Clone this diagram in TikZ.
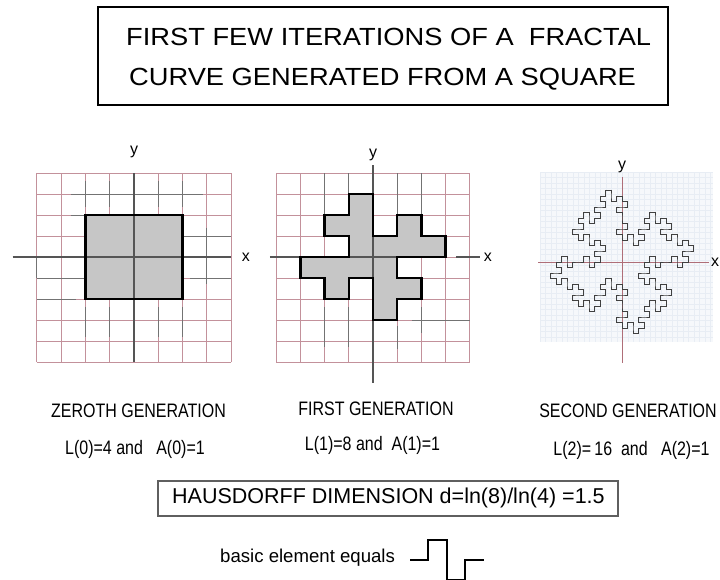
\documentclass[tikz,border=0pt]{standalone}
\usepackage{fontspec}
\setmainfont{Liberation Sans}
\newfontfamily\condfont[FakeStretch=0.82]{Liberation Sans}
\newfontfamily\widefont[FakeStretch=1.1]{Liberation Sans}
\usetikzlibrary{lindenmayersystems}
\pgfdeclarelindenmayersystem{QuadKoch}{\rule{F -> F+F-F-FF+F+F-F}}
\definecolor{gridpink}{RGB}{195,145,155}
\definecolor{axisgray}{RGB}{85,85,85}
\definecolor{shapefill}{RGB}{198,198,198}
\definecolor{faintbg}{RGB}{246,248,251}
\definecolor{faintline}{RGB}{232,237,244}
\definecolor{redaxis}{RGB}{175,110,120}
\definecolor{boxgray}{RGB}{95,95,95}
\begin{document}
\begin{tikzpicture}[x=1pt,y=-1pt,
  gridln/.style={draw=gridpink,line width=0.9pt},
  darkseg/.style={draw=black!55,line width=0.9pt},
  axisln/.style={draw=axisgray,line width=1.1pt},
  outline/.style={draw=black,line width=2.4pt,line join=miter},
  lbl/.style={inner sep=0pt,font=\fontsize{16}{18}\selectfont},
  genlbl/.style={inner sep=0pt,anchor=base,font=\condfont\fontsize{19.5}{21}\selectfont},
]
\fill[white] (0,0) rectangle (720,579);
\useasboundingbox (0,0) rectangle (720,579);

% ---- title
\draw[line width=1.8pt] (98,7) rectangle (668,105);
\node[anchor=base west,inner sep=0pt,font=\widefont\fontsize{24.8}{28}\selectfont] (t1) at (126,45) {FIRST FEW ITERATIONS OF A\ \ FRACTAL};
\node[anchor=base west,inner sep=0pt,font=\widefont\fontsize{24.8}{28}\selectfont] (t2) at (129,85) {CURVE GENERATED FROM A SQUARE};

% ---- zeroth generation
\begin{scope}[shift={(134,257)},x=24.3pt,y=21pt]
  \foreach \i in {-4,...,4} \draw[gridln] (\i,-5) -- (\i,4);
  \foreach \j in {-5,...,4} \draw[gridln] (-4,\j) -- (4,\j);
  \draw[darkseg] (-2.6,3) -- (2.85,3);
  \foreach \i in {-2,-1,1,2} {
    \draw[darkseg] (\i,3.6) -- (\i,2.4);
    \draw[darkseg] (\i,-2.4) -- (\i,-3.8);
  }
  \draw[darkseg] (2,1) -- (4,1);
  \draw[darkseg] (2.3,-1) -- (4,-1);
  \draw[darkseg] (3,1.4) -- (3,-1.3);
  \draw[darkseg] (-4,-1) -- (-2,-1);
  \draw[darkseg] (-4,0) -- (-4,-1);
  \draw[darkseg] (-4,-2) -- (-2.4,-2);
  \draw[darkseg] (-2.6,2) -- (-2,2);
  \fill[shapefill] (-2,-2) rectangle (2,2);
  \draw[axisln] (-5,0) -- (4,0);
  \draw[axisln] (0,4) -- (0,-5);
  \draw[outline] (-2,-2) rectangle (2,2);
  \node[lbl] (x1) at (4.6,0) {x};
  \node[lbl] (y1) at (0,5.0) {y};
\end{scope}

% ---- first generation
\begin{scope}[shift={(373,257)},x=24.2pt,y=21pt]
  \foreach \i in {-4,...,4} \draw[gridln] (\i,-5) -- (\i,4);
  \foreach \j in {-5,...,4} \draw[gridln] (-4,\j) -- (4,\j);
  \draw[darkseg] (-2,4) -- (-2,2);
  \draw[darkseg] (-1,4) -- (-1,3);
  \draw[darkseg] (1,4) -- (1,2);
  \draw[darkseg] (2,4) -- (2,2);
  \draw[darkseg] (-2,-2.4) -- (-2,-4.3);
  \draw[darkseg] (-1,-2.4) -- (-1,-4.3);
  \draw[darkseg] (1,-3.3) -- (1,-4.4);
  \draw[darkseg] (2,-2.4) -- (2,-3.6);
  \draw[darkseg] (1.6,-3) -- (4,-3);
  \fill[shapefill] (-2,2) -- (-1,2) -- (-1,3) -- (0,3) -- (0,2) -- (0,1) -- (1,1) -- (1,2) -- (2,2)
    -- (2,1) -- (3,1) -- (3,0) -- (2,0) -- (1,0) -- (1,-1) -- (2,-1) -- (2,-2)
    -- (1,-2) -- (1,-3) -- (0,-3) -- (0,-2) -- (0,-1) -- (-1,-1) -- (-1,-2) -- (-2,-2)
    -- (-2,-1) -- (-3,-1) -- (-3,0) -- (-2,0) -- (-1,0) -- (-1,1) -- (-2,1) -- cycle;
  \draw[axisln] (-4.26,0) -- (3.05,0);
  \draw[axisln] (3.45,0) -- (4.42,0);
  \draw[axisln] (0,4.38) -- (0,-6);
  \draw[outline] (-2,2) -- (-1,2) -- (-1,3) -- (0,3) -- (0,2) -- (0,1) -- (1,1) -- (1,2) -- (2,2)
    -- (2,1) -- (3,1) -- (3,0) -- (2,0) -- (1,0) -- (1,-1) -- (2,-1) -- (2,-2)
    -- (1,-2) -- (1,-3) -- (0,-3) -- (0,-2) -- (0,-1) -- (-1,-1) -- (-1,-2) -- (-2,-2)
    -- (-2,-1) -- (-3,-1) -- (-3,0) -- (-2,0) -- (-1,0) -- (-1,1) -- (-2,1) -- cycle;
  \node[lbl] (x2) at (4.75,0) {x};
  \node[lbl] (y2) at (0,4.86) {y};
\end{scope}

% ---- second generation
\begin{scope}[shift={(622,262)}]
  \fill[faintbg] (-82,-90) rectangle (91,80);
  \foreach \k in {0,...,31} \draw[faintline,line width=0.4pt] ({-82+5.5*\k},-90) -- ({-82+5.5*\k},80);
  \foreach \k in {0,...,30} \draw[faintline,line width=0.4pt] (-82,{-90+5.5*\k}) -- (91,{-90+5.5*\k});
  \draw[redaxis,line width=1pt] (-84,0) -- (87,0);
  \draw[redaxis,line width=1pt] (0,-85) -- (0,101);
  \begin{scope}[shift={(-44,-44)},x=1pt,y=1pt]
    \draw[draw=black!75,line width=1pt,line join=miter,
      lindenmayer system={QuadKoch, axiom=F-F-F-F, order=2, step=5.5pt, angle=90}]
      (0,0) lindenmayer system -- cycle;
  \end{scope}
  \node[lbl] (x3) at (93,0) {x};
  \node[lbl] (y3) at (0,-95) {y};
\end{scope}

% ---- labels
\node[genlbl] (g0) at (138.5,417) {ZEROTH GENERATION};
\node[genlbl] (l0) at (135,454) {L(0)=4 and\ \ \ A(0)=1};
\node[genlbl] (g1) at (376,415) {FIRST GENERATION};
\node[genlbl] (l1) at (372.5,450) {L(1)=8 and\ \ A(1)=1};
\node[genlbl] (g2) at (628,417) {SECOND GENERATION};
\node[genlbl] (l2) at (631.5,455) {L(2)=\,16\ \ and\ \ \ A(2)=1};

% ---- Hausdorff
\draw[boxgray,line width=1.4pt] (158,481) rectangle (618,516);
\node[anchor=base west,inner sep=0pt,font=\fontsize{21.5}{24}\selectfont] (hd) at (172,503) {HAUSDORFF DIMENSION d=ln(8)/ln(4) =1.5};

% ---- basic element
\node[anchor=base west,inner sep=0pt,font=\fontsize{18.6}{20}\selectfont] (be) at (220,562) {basic element equals};
\coordinate (e0) at (410,560);
\draw[line width=2.2pt,line join=miter] (e0) -- ++(18,0) -- ++(0,-20) -- ++(19,0) -- ++(0,40) -- ++(18,0) -- ++(0,-20) -- ++(19,0);
\end{tikzpicture}
\end{document}
